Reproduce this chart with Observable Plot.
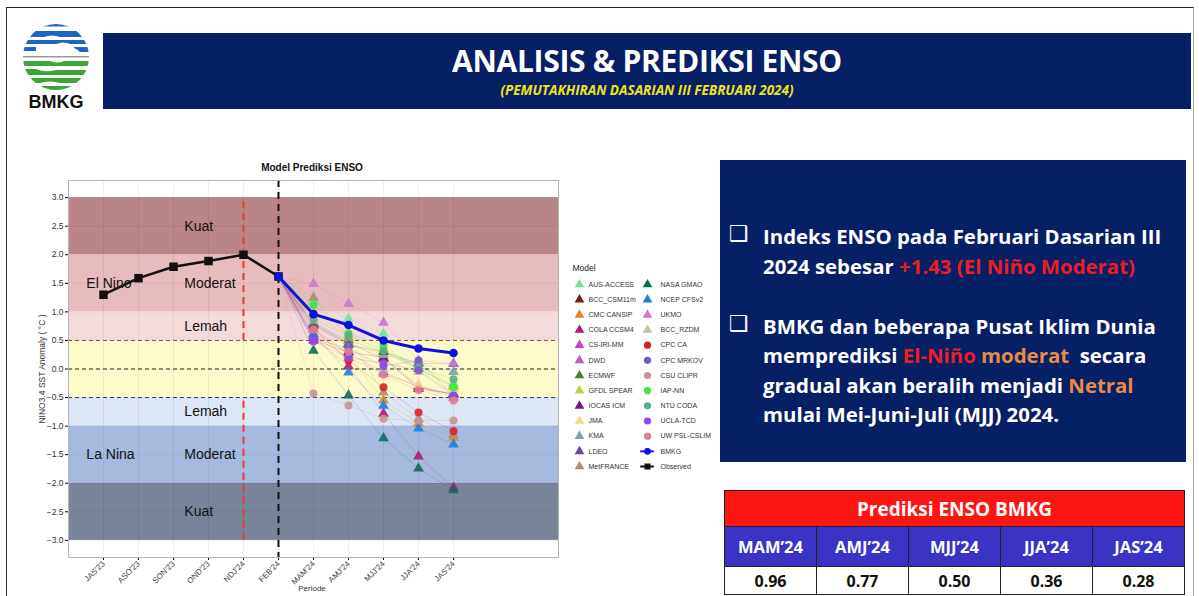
<!DOCTYPE html>
<html><head><meta charset="utf-8">
<script src="https://cdn.jsdelivr.net/npm/d3@7"></script>
<script src="https://cdn.jsdelivr.net/npm/@observablehq/plot@0.6"></script>
<style>
body{margin:0;width:1199px;height:596px;overflow:hidden;background:#fff;position:relative;font-family:"Liberation Sans",Arial,sans-serif}
.abs{position:absolute}
#frame{left:6px;top:7px;width:1186px;height:620px;border-top:1.5px solid #222;border-left:1.5px solid #333;border-right:1px solid #aaa}
#banner{left:103px;top:33px;width:1088px;height:76px;background:#062066}
#title{left:103px;top:40px;width:1088px;text-align:center;color:#fff;font:bold 30px "Open Sans",Lato,sans-serif;letter-spacing:-0.3px}
#subtitle{left:103px;top:81px;width:1088px;text-align:center;color:#f2e21c;font:italic bold 13.5px "Open Sans",Lato,sans-serif}
#chartTitle{left:160px;top:162px;width:304px;text-align:center;font:bold 10px "Liberation Sans",Arial,sans-serif;color:#111}
#periode{left:160px;top:584px;width:304px;text-align:center;font:8px "Liberation Sans",Arial,sans-serif;color:#333}
#box{left:720px;top:160px;width:466px;height:302px;background:#062066}
.ln{position:absolute;left:763px;color:#fff;font:bold 20.4px "Open Sans",Lato,sans-serif;white-space:nowrap;letter-spacing:0px}
.bul{position:absolute;left:729px;color:#fff;font:bold 22px "DejaVu Sans",sans-serif}
.red{color:#ee1c25}.org{color:#eb8a45}
#tbl{left:724px;top:490px;border-collapse:collapse;font-family:"Open Sans",Lato,sans-serif;font-weight:bold}
#tbl td{border:1px solid #222;text-align:center;padding:0;width:91px}
</style></head><body>
<div id="frame" class="abs"></div>
<svg class="abs" style="left:0;top:0" width="100" height="115">
  <defs><clipPath id="lc"><circle cx="56" cy="57" r="33"/></clipPath></defs>
  <g clip-path="url(#lc)">
    <rect x="20" y="23" width="72" height="3.5" fill="#1e66c4"/>
    <path d="M20 31 H92 V37 H60 Q52 34 44 37 H20Z" fill="#1e66c4"/>
    <path d="M20 40 H92 V44 H70 Q64 41 56 44 H20Z" fill="#1e66c4"/>
    <path d="M20 47 H36 V51 H20Z M74 47 H92 V52 H80 Q77 49 74 48Z" fill="#1e66c4"/>
    <rect x="20" y="56" width="72" height="1.5" fill="#9a9a9a"/>
    <path d="M20 61 H50 Q58 64 64 61 H92 V66 H20Z" fill="#3aa635"/>
    <path d="M20 69 H36 Q46 73 56 70 H92 V75 H20Z" fill="#3aa635"/>
    <path d="M20 78 H92 V83 H60 Q50 80 40 83 H20Z" fill="#3aa635"/>
    <rect x="30" y="86" width="52" height="4" fill="#3aa635"/>
  </g>
  <text x="56" y="108" text-anchor="middle" font-family="Liberation Sans,Arial" font-weight="bold" font-size="18" fill="#111">BMKG</text>
</svg>
<div id="banner" class="abs"></div>
<div id="title" class="abs">ANALISIS &amp; PREDIKSI ENSO</div>
<div id="subtitle" class="abs">(PEMUTAKHIRAN DASARIAN III FEBRUARI 2024)</div>
<div id="chartTitle" class="abs">Model Prediksi ENSO</div>
<div id="periode" class="abs">Periode</div>
<div id="box" class="abs"></div>
<div class="bul" style="top:221px">❑</div>
<div class="ln" style="top:222px">Indeks ENSO pada Februari Dasarian III</div>
<div class="ln" style="top:252px">2024 sebesar <span class="red">+1.43 (El Niño Moderat)</span></div>
<div class="bul" style="top:311px">❑</div>
<div class="ln" style="top:312px">BMKG dan beberapa Pusat Iklim Dunia</div>
<div class="ln" style="top:341px">memprediksi <span class="red">El-Niño</span> <span class="org">moderat</span>&nbsp; secara</div>
<div class="ln" style="top:371px">gradual akan beralih menjadi <span class="org">Netral</span></div>
<div class="ln" style="top:400px">mulai Mei-Juni-Juli (MJJ) 2024.</div>
<table id="tbl" class="abs"></table>
<div id="chart" class="abs" style="left:0;top:150px"></div>
<div id="legend" class="abs" style="left:560px;top:255px"></div>
<script>
// ---- data ----
const periods = ["JAS'23","ASO'23","SON'23","OND'23","NDJ'24","FEB'24","MAM'24","AMJ'24","MJJ'24","JJA'24","JAS'24"];
const observed = [1.30, 1.59, 1.79, 1.89, 2.00, 1.62];
const bmkg = [0.96, 0.77, 0.50, 0.36, 0.28];
const tablePeriods = ["MAM’24","AMJ’24","MJJ’24","JJA’24","JAS’24"];
const tableTitle = "Prediksi ENSO BMKG";
const models = ["AUS-ACCESS","BCC_CSM11m","CMC CANSIP","COLA CCSM4","CS-IRI-MM","DWD","ECMWF","GFDL SPEAR","IOCAS ICM","JMA","KMA","LDEO","MetFRANCE",
  "NASA GMAO","NCEP CFSv2","UKMO","BCC_RZDM","CPC CA","CPC MRKOV","CSU CLIPR","IAP-NN","NTU CODA","UCLA-TCD","UW PSL-CSLIM"];
const modelShapes = ["triangle","triangle","triangle","triangle","triangle","triangle","triangle","triangle","triangle","triangle","triangle","triangle","triangle",
  "triangle","triangle","triangle","triangle","circle","circle","circle","circle","circle","circle","circle"];
const modelColors = ["#6de89a","#7a1a1a","#e8861a","#b0187a","#d43cc8","#c05cb8","#4f7a2e","#bcd43c","#7a108a","#f2dc8c","#7aa0a8","#6a4a9a","#a8906a",
  "#116a5a","#1e7ee0","#c878d0","#c4c4a4","#d8202c","#6c5ad8","#c49494","#3ce83c","#58b080","#9048e8","#e08090"];
// MAM, AMJ, MJJ, JJA, JAS
const modelValues = [
  [1.18, 0.88, 0.62, 0.05, -0.25],
  [0.78, 0.45, 0.18, -0.30, -0.45],
  [0.70, 0.25, -0.55, -0.95, -1.20],
  [0.55, 0.05, -0.78, -1.53, -2.08],
  [0.58, 0.20, -0.08, -0.30, -0.50],
  [0.62, 0.28, -0.05, -0.32, -0.45],
  [0.80, 0.50, 0.30, 0.00, -0.30],
  [0.95, 0.60, 0.35, 0.05, -0.30],
  [0.50, 0.30, 0.20, -0.35, -0.43],
  [0.90, 0.55, 0.25, -0.28, -0.35],
  [0.82, 0.45, 0.25, 0.10, -0.05],
  [0.76, 0.42, 0.30, 0.10, 0.09],
  [1.25, 0.55, -0.41, -0.88, -1.15],
  [0.32, -0.46, -1.21, -1.74, -2.12],
  [0.60, -0.06, -0.64, -1.04, -1.32],
  [1.49, 1.14, 0.81, 0.15, 0.10],
  [0.85, 0.35, 0.00, -0.05, -0.40],
  [0.70, 0.15, -0.32, -0.76, -1.09],
  [0.53, 0.36, 0.05, 0.15, -0.47],
  [-0.43, -0.64, -0.87, -0.90, -0.90],
  [1.12, 0.62, 0.41, 0.00, -0.32],
  [0.87, 0.58, 0.32, 0.03, -0.18],
  [0.48, 0.20, 0.10, -0.02, -0.47],
  [0.69, 0.30, -0.10, -0.37, -0.55]
];
const bandLo = [2, 1, 0.5, -0.5, -1, -2, -3];
const bandHi = [3, 2, 1, 0.5, -0.5, -1, -2];
const bandFills = ["#b98589","#e6bcbe","#f3dbdb","#fdfbc9","#dde6f4","#a6b9de","#7a8499"];
const bandLabels = ["Kuat","Moderat","Lemah","Lemah","Moderat","Kuat"];
const bandLabelY = [2.5, 1.5, 0.75, -0.75, -1.5, -2.5];
const phaseLabels = ["El Nino","La Nina"];
const phaseLabelY = [1.5, -1.5];

// ---- derived tables ----
const bands = bandLo.map((lo,i)=>({lo, hi:bandHi[i], fill:bandFills[i]}));
const obsRows = observed.map((v,i)=>({i, v}));
const feb = observed[observed.length-1];
const bmkgRows = [{i:5, v:feb}, ...bmkg.map((v,k)=>({i:6+k, v}))];
const lineRows = [], ptRows = [];
models.forEach((m,j)=>{
  lineRows.push({m, c:modelColors[j], i:5, v:feb});
  modelValues[j].forEach((v,k)=>{
    lineRows.push({m, c:modelColors[j], i:6+k, v});
    ptRows.push({m, c:modelColors[j], s:modelShapes[j], i:6+k, v});
  });
});
const font = "'Liberation Sans', Arial, sans-serif";

const chart = Plot.plot({
  width:560, height:446, marginLeft:68, marginRight:2, marginTop:30, marginBottom:39,
  x:{domain:[-1,13], axis:null},
  y:{domain:[-3.3,3.3], axis:null},
  style:{background:"transparent", fontFamily:font, overflow:"visible"},
  marks:[
    Plot.rect(bands, {x1:-1, x2:13, y1:"lo", y2:"hi", fill:d=>d.fill}),
    Plot.ruleX(d3.range(0,11), {stroke:"#000", strokeOpacity:0.06, strokeWidth:1}),
    Plot.ruleY(d3.range(-3,3.01,0.5), {stroke:"#000", strokeOpacity:0.06, strokeWidth:1}),
    Plot.ruleY([0.5], {stroke:"#8a4a2a", strokeWidth:1, strokeDasharray:"4,3"}),
    Plot.ruleY([0], {stroke:"#222", strokeWidth:1, strokeDasharray:"4,3"}),
    Plot.ruleY([-0.5], {stroke:"#33336a", strokeWidth:1, strokeDasharray:"4,3"}),
    Plot.ruleX([4], {y1:0.5, y2:3, stroke:"#e83a30", strokeWidth:2, strokeDasharray:"7,5"}),
    Plot.ruleX([4], {y1:-3, y2:-0.5, stroke:"#e83a30", strokeWidth:2, strokeDasharray:"7,5"}),
    Plot.ruleX([5], {stroke:"#111", strokeWidth:2, strokeDasharray:"7,5"}),
    Plot.text(bandLabels, {x:2.31, y:(d,i)=>bandLabelY[i], text:d=>d, textAnchor:"start", fontSize:14, fill:"#111"}),
    Plot.text(phaseLabels, {x:-0.49, y:(d,i)=>phaseLabelY[i], text:d=>d, textAnchor:"start", fontSize:14, fill:"#111"}),
    Plot.line(lineRows, {x:"i", y:"v", z:"m", stroke:d=>d.c, strokeOpacity:0.3, strokeWidth:0.7}),
    Plot.dot(ptRows, {x:"i", y:"v", symbol:d=>d.s, r:4, fill:d=>d.c, fillOpacity:0.9}),
    Plot.line(obsRows, {x:"i", y:"v", stroke:"#111", strokeWidth:2.5}),
    Plot.dot(obsRows, {x:"i", y:"v", symbol:"square", r:4.8, fill:"#111"}),
    Plot.line(bmkgRows, {x:"i", y:"v", stroke:"#1010e0", strokeWidth:3}),
    Plot.dot(bmkgRows, {x:"i", y:"v", r:4.3, fill:"#1010e0"}),
    Plot.axisY({ticks:d3.range(-3,3.01,0.5), tickFormat:d3.format(".1f"), fontSize:8.5, tickSize:3, tickPadding:2, fill:"#333",
      label:"NINO3.4 SST Anomaly ( °C )", labelAnchor:"center", labelArrow:"none", labelOffset:30}),
    Plot.axisX({ticks:d3.range(0,11), tickFormat:i=>periods[i], tickRotate:-45, fontSize:8, tickSize:3, tickPadding:2, fill:"#444", label:null}),
    Plot.frame({stroke:"#b5b5b5"})
  ]
});
document.getElementById("chart").append(chart);

// legend
const legRows = models.map((m,j)=>({name:m, col:j<13?0:1, row:j<13?j:j-13, s:modelShapes[j], c:modelColors[j]}));
const legLines = [{name:"BMKG", col:1, row:11, c:"#1010e0", s:"circle"},{name:"Observed", col:1, row:12, c:"#111", s:"square"}];
const legAll = [...legRows, ...legLines];
const legend = Plot.plot({
  width:140, height:220, margin:0,
  x:{domain:[0,1], range:[19,87], axis:null},
  y:{domain:[0,12], range:[29,211], axis:null},
  style:{background:"transparent", fontFamily:font, overflow:"visible"},
  marks:[
    Plot.text(["Model"], {x:0, y:-1, dx:-7, dy:-1, text:d=>d, textAnchor:"start", fontSize:8.5, fill:"#222"}),
    Plot.dot(legRows, {x:"col", y:"row", symbol:d=>d.s, r:3.6, fill:d=>d.c}),
    Plot.ruleY(legLines, {x1:d=>d.col-0.1, x2:d=>d.col+0.1, y:"row", stroke:d=>d.c, strokeWidth:2}),
    Plot.dot(legLines, {x:"col", y:"row", symbol:d=>d.s, r:3.4, fill:d=>d.c}),
    Plot.text(legAll.filter(d=>d.col===0), {x:"col", y:"row", text:"name", dx:9, textAnchor:"start", fontSize:7, fill:"#333"}),
    Plot.text(legAll.filter(d=>d.col===1), {x:"col", y:"row", text:"name", dx:13, textAnchor:"start", fontSize:7, fill:"#333"})
  ]
});
document.getElementById("legend").append(legend);

// table
const tbl = document.getElementById("tbl");
tbl.innerHTML =
  `<tr><td colspan="5" style="background:#ff1414;color:#fff;font-size:19px;height:35px">${tableTitle}</td></tr>` +
  `<tr>${tablePeriods.map(p=>`<td style="background:#3a33c6;color:#fff;font-size:16.5px;height:39px">${p}</td>`).join("")}</tr>` +
  `<tr>${bmkg.map(v=>`<td style="background:#fff;color:#111;font-size:16px;height:27px">${v.toFixed(2)}</td>`).join("")}</tr>`;
</script>
</body></html>
